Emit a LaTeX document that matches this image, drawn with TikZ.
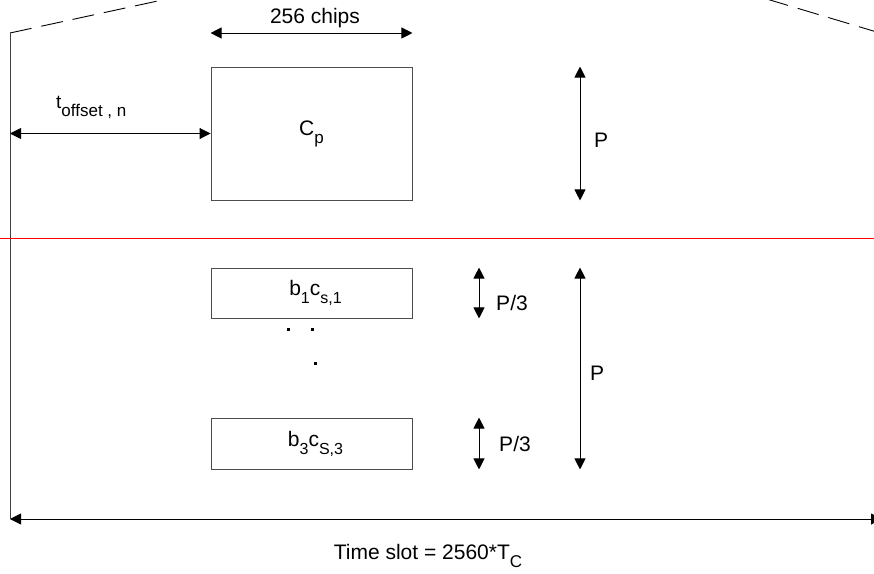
\documentclass[tikz,border=0pt]{standalone}
\usepackage{fontspec}
\setmainfont{Liberation Sans}
\usetikzlibrary{arrows.meta}
\newcommand{\lo}[2][16]{\raisebox{-8pt}{\fontsize{#1}{#1}\selectfont #2}}

\begin{document}
\begin{tikzpicture}[x=1pt,y=-1pt,
            slot/.style={draw=black!70, line width=0.9pt, minimum width=201pt, inner sep=0pt, font=\fontsize{21}{25}\selectfont},
            dim/.style={{Triangle[length=11pt,width=11pt]}-{Triangle[length=11pt,width=11pt]}, line width=0.9pt},
            lbl/.style={inner sep=0pt, font=\fontsize{21}{25}\selectfont},
            roof/.style={line width=0.9pt, dash pattern=on 22pt off 10pt}
            ]
            \useasboundingbox (0,0) rectangle (874,573);

            \coordinate (lt) at (10,33);
            \coordinate (lb) at (10,519);
            \coordinate (rb) at (882,519);
            \coordinate (lpeak) at (190,-6);
            \coordinate (rr) at (880,33);
            \coordinate (rpeak) at (750,-6);
            \coordinate (pcol) at (580,0);
            \coordinate (qcol) at (479,0);
            \coordinate (redl) at (0,238);
            \coordinate (redr) at (874,238);

            \node[slot, minimum height=133pt] (cp) at (311.5,133.5) {C\lo[17]{p}};
            \node[slot, minimum height=50pt] (b1) at (311.5,293) {\hspace{8pt}b\lo{1}c\lo{s,1}};
            \node[slot, minimum height=51pt] (b3) at (311.5,443.5) {\hspace{8pt}b\lo{3}c\lo{S,3}};

            \node[lbl] (chips) at (315,18) {256 chips};
            \node[lbl, anchor=west, font=\fontsize{19}{22}\selectfont] (toff) at (56,107) {t\lo[17]{offset , n}};
            \node[lbl] (pa) at (601,140) {P};
            \node[lbl] (pb) at (597,373) {P};
            \node[lbl] (q1) at (512,303) {P/3};
            \node[lbl] (q3) at (515,444) {P/3};
            \node[lbl] (tslot) at (428,556) {Time slot = 2560*T\lo[17]{C}};

            \draw[roof] (lt) -- (lpeak);
            \draw[roof] (rr) -- (rpeak);
            \draw[line width=0.9pt, black!75] (lt) -- (lb);
            \draw[red, line width=0.9pt] (redl) -- (redr);

            \draw[dim] (lb) -- (rb);
            \draw[dim] (lt |- cp.west) -- (cp.west);
            \draw[dim] (cp.north west |- lt) -- (cp.north east |- lt);
            \draw[dim] (cp.north -| pcol) -- (cp.south -| pcol);
            \draw[dim] (b1.north -| pcol) -- (b3.south -| pcol);
            \draw[dim] (b1.north -| qcol) -- (b1.south -| qcol);
            \draw[dim] (b3.north -| qcol) -- (b3.south -| qcol);

            \foreach \d in {(288,329),(312,329),(315,363)}
                \fill \d +(-1.5,-1.5) rectangle +(1.5,1.5);
\end{tikzpicture}
\end{document}
